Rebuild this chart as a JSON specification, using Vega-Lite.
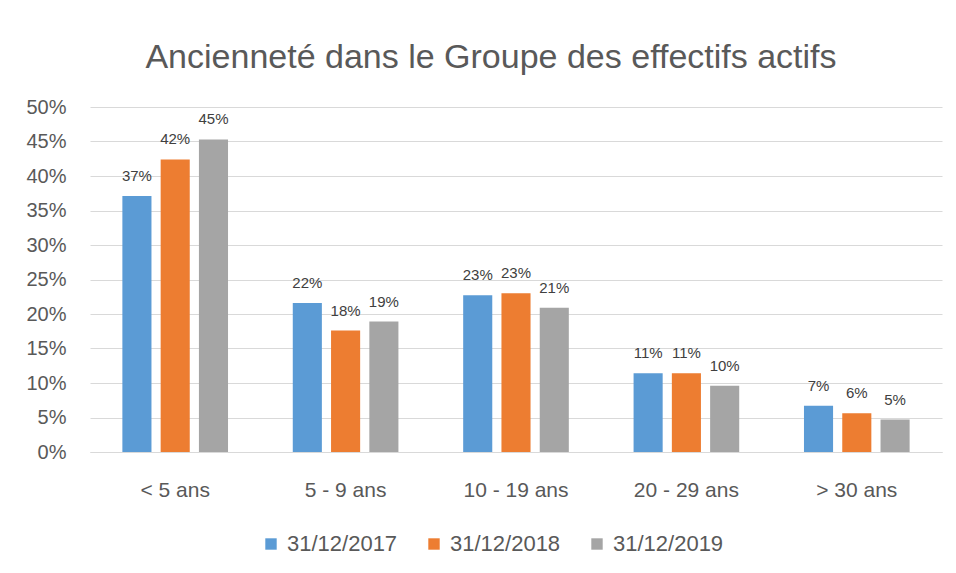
{
  "$schema": "https://vega.github.io/schema/vega-lite/v6.json",
  "width": 852,
  "height": 345,
  "autosize": {"type": "none"},
  "padding": {"left": 90, "top": 107, "right": 14, "bottom": 121},
  "background": "white",
  "config": {
    "font": "Liberation Sans",
    "view": {"stroke": null},
    "axis": {"labelFont": "Liberation Sans", "labelColor": "#595959"},
    "legend": {"labelFont": "Liberation Sans"}
  },
  "title": {
    "text": "Ancienneté dans le Groupe des effectifs actifs",
    "fontSize": 34,
    "font": "Liberation Sans",
    "fontWeight": "normal",
    "color": "#595959",
    "anchor": "middle",
    "dx": -25,
    "offset": 22
  },
  "data": {
    "values": [
      {"cat": "< 5 ans", "date": "31/12/2017", "v": 0.371},
      {"cat": "< 5 ans", "date": "31/12/2018", "v": 0.424},
      {"cat": "< 5 ans", "date": "31/12/2019", "v": 0.453},
      {"cat": "5 - 9 ans", "date": "31/12/2017", "v": 0.216},
      {"cat": "5 - 9 ans", "date": "31/12/2018", "v": 0.176},
      {"cat": "5 - 9 ans", "date": "31/12/2019", "v": 0.189},
      {"cat": "10 - 19 ans", "date": "31/12/2017", "v": 0.227},
      {"cat": "10 - 19 ans", "date": "31/12/2018", "v": 0.230},
      {"cat": "10 - 19 ans", "date": "31/12/2019", "v": 0.209},
      {"cat": "20 - 29 ans", "date": "31/12/2017", "v": 0.114},
      {"cat": "20 - 29 ans", "date": "31/12/2018", "v": 0.114},
      {"cat": "20 - 29 ans", "date": "31/12/2019", "v": 0.096},
      {"cat": "> 30 ans", "date": "31/12/2017", "v": 0.067},
      {"cat": "> 30 ans", "date": "31/12/2018", "v": 0.056},
      {"cat": "> 30 ans", "date": "31/12/2019", "v": 0.047}
    ]
  },
  "encoding": {
    "x": {
      "field": "cat",
      "type": "nominal",
      "sort": ["< 5 ans", "5 - 9 ans", "10 - 19 ans", "20 - 29 ans", "> 30 ans"],
      "scale": {"paddingInner": 0.38, "paddingOuter": 0.19},
      "axis": {
        "title": null,
        "labelAngle": 0,
        "ticks": false,
        "domain": true,
        "domainColor": "#d9d9d9",
        "labelFontSize": 21,
        "labelPadding": 27
      }
    },
    "xOffset": {
      "field": "date",
      "type": "nominal",
      "scale": {"paddingInner": 0.24}
    },
    "y": {
      "field": "v",
      "type": "quantitative",
      "scale": {"domain": [0, 0.5]},
      "axis": {
        "title": null,
        "values": [0, 0.05, 0.1, 0.15, 0.2, 0.25, 0.3, 0.35, 0.4, 0.45, 0.5],
        "format": ".0%",
        "grid": true,
        "gridColor": "#d9d9d9",
        "domain": false,
        "ticks": false,
        "labelFontSize": 20,
        "labelPadding": 24
      }
    }
  },
  "layer": [
    {
      "mark": {"type": "bar"},
      "encoding": {
        "color": {
          "field": "date",
          "type": "nominal",
          "scale": {"range": ["#5B9BD5", "#ED7D31", "#A5A5A5"]},
          "legend": {
            "title": null,
            "orient": "none",
            "direction": "horizontal",
            "legendX": 170,
            "legendY": 426,
            "symbolType": "square",
            "symbolSize": 130,
            "symbolStrokeWidth": 0,
            "labelFontSize": 22,
            "labelColor": "#595959",
            "labelOffset": 5,
            "columnPadding": 25,
            "padding": 0
          }
        }
      }
    },
    {
      "mark": {"type": "text", "baseline": "middle", "dy": -20, "fontSize": 15, "color": "#404040"},
      "encoding": {
        "text": {"field": "v", "type": "quantitative", "format": ".0%"}
      }
    }
  ]
}
